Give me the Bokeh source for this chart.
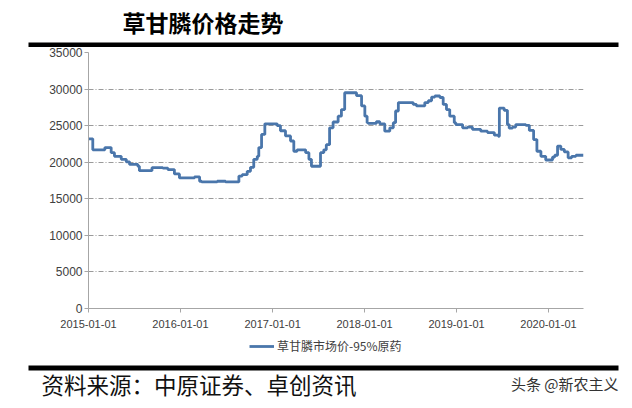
import pandas as pd
from bokeh.plotting import figure
from bokeh.layouts import column
from bokeh.models import (Legend, LegendItem, Range1d, FixedTicker,
                          DatetimeTickFormatter)
from bokeh.core.properties import value
from bokeh.embed import file_html
from bokeh.resources import INLINE

# ---- data ----
dates = [
    "2015-01-01", "2015-01-18", "2015-03-07", "2015-04-01", "2015-04-14",
    "2015-05-11", "2015-05-31", "2015-06-13", "2015-07-16", "2015-07-22",
    "2015-09-10", "2015-10-23", "2015-11-12", "2015-12-08", "2015-12-28",
    "2016-02-26", "2016-03-17", "2016-03-25", "2016-05-26", "2016-06-28",
    "2016-08-20", "2016-09-02", "2016-09-22", "2016-10-05", "2016-10-18",
    "2016-11-01", "2016-11-07", "2016-11-18", "2016-12-01", "2017-01-19",
    "2017-02-01", "2017-02-21", "2017-03-13", "2017-03-26", "2017-04-08",
    "2017-05-12", "2017-05-25", "2017-06-04", "2017-07-10", "2017-07-23",
    "2017-08-02", "2017-08-15", "2017-08-29", "2017-09-18", "2017-10-01",
    "2017-10-14", "2017-11-30", "2017-12-20", "2018-01-02", "2018-01-11",
    "2018-01-15", "2018-02-17", "2018-03-02", "2018-03-22", "2018-04-11",
    "2018-04-25", "2018-05-04", "2018-05-15", "2018-07-13", "2018-07-26",
    "2018-08-28", "2018-09-11", "2018-09-24", "2018-10-07", "2018-10-27",
    "2018-11-09", "2018-11-22", "2018-12-05", "2018-12-23", "2018-12-29",
    "2019-01-25", "2019-02-14", "2019-03-05", "2019-04-07", "2019-05-04",
    "2019-05-31", "2019-06-16", "2019-06-20", "2019-07-09", "2019-07-22",
    "2019-07-29", "2019-08-11", "2019-08-24", "2019-10-03", "2019-10-17",
    "2019-11-03", "2019-11-16", "2019-12-02", "2019-12-21", "2020-01-17",
    "2020-01-26", "2020-02-06", "2020-02-19", "2020-03-04", "2020-03-19",
    "2020-04-02", "2020-04-19", "2020-05-19",
]
prices = [
    23200, 21700, 22000, 21300, 20800,
    20400, 20050, 19700, 19450, 18850,
    19250, 19200, 19000, 18400, 17850,
    18000, 17400, 17300, 17400, 17300,
    18100, 18300, 18750, 19300, 20400,
    20800, 22000, 23800, 25250, 25000,
    24300, 23600, 22900, 21500, 21700,
    21300, 20400, 19450, 21300, 21700,
    22400, 24700, 25500, 26300, 27200,
    29500, 29100, 27700, 26300, 25400,
    25300, 25550, 25250, 24250, 24700,
    25400, 27000, 28150, 27900, 27700,
    28150, 28400, 28900, 29050, 28850,
    27900, 27200, 26300, 25400, 25150,
    24700, 24800, 24500, 24250, 24050,
    23700, 23550, 27400, 27100, 25150,
    24650, 24800, 25150, 25050, 24350,
    23100, 21500, 20800, 20300, 20700,
    20950, 22200, 21750, 21400, 20600,
    20800, 20950, 20950,
]
x_tick_labels = ["2015-01-01", "2016-01-01", "2017-01-01",
                 "2018-01-01", "2019-01-01", "2020-01-01"]
y_ticks = [0, 5000, 10000, 15000, 20000, 25000, 30000, 35000]
series_name = "草甘膦市场价-95%原药"
title_text = "草甘膦价格走势"
source_text = "资料来源：中原证券、卓创资讯"
mark_text = "头条 @新农主义"

W = 632
CJK = "Noto Sans CJK SC"
LINE_COLOR = "#4a76ab"


def deco_figure(h):
    f = figure(width=W, height=h, output_backend="svg", toolbar_location=None,
               x_range=Range1d(0, W), y_range=Range1d(h, 0),
               x_axis_location=None, y_axis_location=None,
               min_border=0, min_border_left=0, min_border_right=0,
               min_border_top=0, min_border_bottom=0, frame_align=False)
    f.outline_line_color = None
    f.xgrid.visible = False
    f.ygrid.visible = False
    f.background_fill_color = "white"
    f.border_fill_color = "white"
    return f


# ---- header: title and thick rule ----
head = deco_figure(47)
head.text(x=[122], y=[21], text=[title_text], text_font=value(CJK),
          text_font_size="23px", text_font_style="bold", text_color="black",
          text_baseline="middle", text_align="left")
head.quad(left=[28], right=[618], top=[42], bottom=[47],
          fill_color="black", line_color=None)

# ---- chart ----
x = pd.to_datetime(dates)
p = figure(width=W, height=287, x_axis_type="datetime",
           output_backend="svg", toolbar_location=None,
           min_border_left=88, min_border_right=49,
           min_border_top=5, min_border_bottom=26, frame_align=False,
           x_range=Range1d(pd.Timestamp(dates[0]), pd.Timestamp(dates[-1])),
           y_range=Range1d(0, 35000))
p.outline_line_color = None
p.background_fill_color = "white"
p.border_fill_color = "white"

r = p.step(x, prices, mode="after", line_color=LINE_COLOR, line_width=2.8)

tick_ms = [pd.Timestamp(t).value // 10**6 for t in x_tick_labels]
p.xaxis.ticker = FixedTicker(ticks=tick_ms)
fmt = "%Y-%m-%d"
p.xaxis.formatter = DatetimeTickFormatter(
    milliseconds=fmt, seconds=fmt, minsec=fmt, minutes=fmt, hourmin=fmt,
    hours=fmt, days=fmt, months=fmt, years=fmt)
p.yaxis.ticker = FixedTicker(ticks=y_ticks)
for ax in (p.xaxis, p.yaxis):
    ax.axis_line_color = "#a6a6a6"
    ax.major_tick_line_color = "#a6a6a6"
    ax.minor_tick_line_color = None
    ax.major_tick_in = 0
    ax.major_tick_out = 4
    ax.major_label_text_font = "Liberation Sans"
    ax.major_label_text_color = "#404040"
p.xaxis.major_label_text_font_size = "11px"
p.yaxis.major_label_text_font_size = "12px"
p.xaxis.major_label_standoff = 7
p.yaxis.major_label_standoff = 2

p.xgrid.grid_line_color = None
p.ygrid.grid_line_color = "#9a9a9a"
p.ygrid.grid_line_dash = "5 2 1 2"
p.ygrid.grid_line_width = 1

# ---- footer: legend, thick rule, source and mark ----
foot = deco_figure(74)
# legend key renderer (kept outside the visible range; only its legend glyph shows)
key = foot.line(x=[-20, -10], y=[-20, -20], line_color=LINE_COLOR,
                line_width=2.8)
legend = Legend(items=[LegendItem(label=series_name, renderers=[key])],
                location=(249, 54), orientation="horizontal",
                border_line_color=None, background_fill_alpha=0,
                padding=0, margin=0, spacing=0,
                glyph_width=25, glyph_height=14, label_height=14,
                label_standoff=3,
                label_text_font=CJK,
                label_text_font_size="12px", label_text_color="#404040")
foot.add_layout(legend)
foot.quad(left=[28], right=[618], top=[31], bottom=[36],
          fill_color="black", line_color=None)
foot.text(x=[41], y=[49], text=[source_text], text_font=value(CJK),
          text_font_size="22.5px", text_color="#111111",
          text_baseline="middle", text_align="left")
foot.text(x=[618], y=[49], text=[mark_text], text_font=value(CJK),
          text_font_size="15px", text_color="#333333",
          text_baseline="middle", text_align="right")

layout = column(head, p, foot, spacing=0)
open("out.html", "w").write(file_html(layout, INLINE))
